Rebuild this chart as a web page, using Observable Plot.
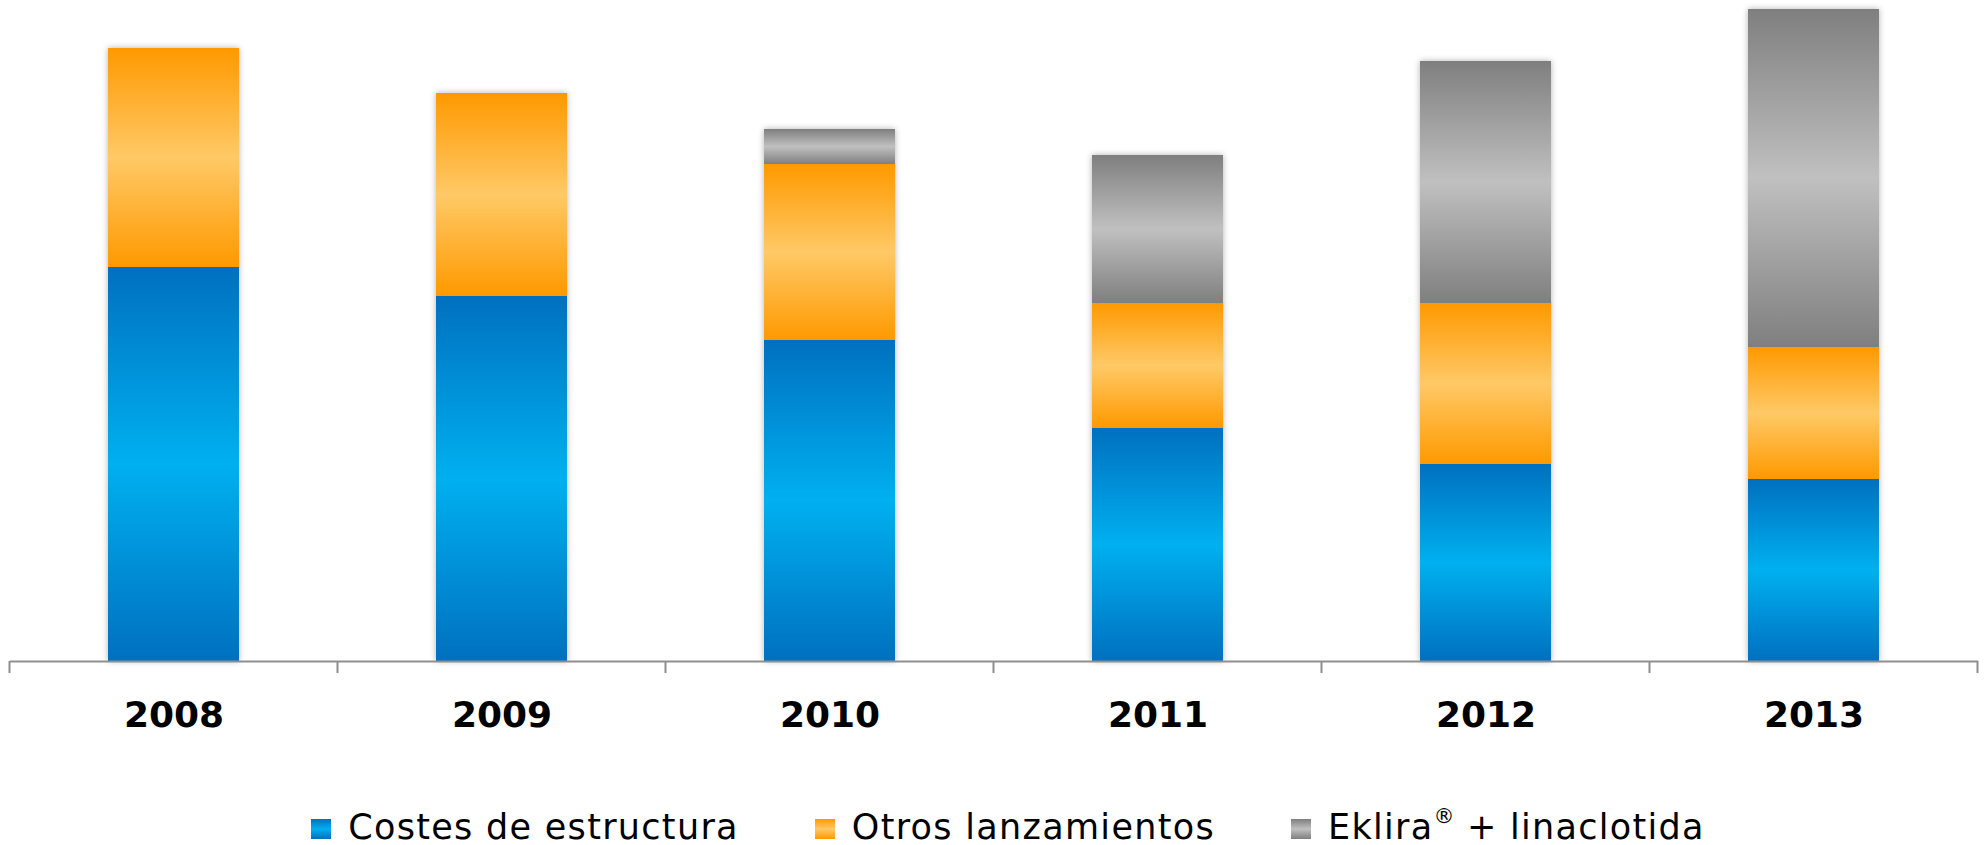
<!DOCTYPE html>
<html>
<head>
<meta charset="utf-8">
<script src="https://cdn.jsdelivr.net/npm/d3@7"></script>
<script src="https://cdn.jsdelivr.net/npm/@observablehq/plot@0.6"></script>
<style>
  html, body { margin: 0; padding: 0; background: #fff; }
  #wrap { position: relative; width: 1984px; height: 845px; overflow: hidden; }
  #chart svg { display: block; }
  .bars { filter: drop-shadow(0 0 3px rgba(0,0,0,0.30)); }
  .legend {
    position: absolute; left: 0; top: 807px; width: 1984px; height: 40px;
    display: flex; justify-content: center; align-items: center;
    padding-left: 32px; box-sizing: border-box;
    font-family: "DejaVu Sans", Verdana, sans-serif; font-size: 35px; line-height: 1; letter-spacing: 1.3px; color: #000;
  }
  .legend .item { display: flex; align-items: center; margin-right: 76px; }
  .legend .item:last-child { margin-right: 0; }
  .legend .sw { width: 20px; height: 20px; margin-right: 17px; margin-top: 4px; }
  .legend sup { font-size: 0.6em; line-height: 0; vertical-align: 0.75em; letter-spacing: 0; }
</style>
</head>
<body>
<div id="wrap">
  <div id="chart"></div>
  <div class="legend" id="legend"></div>
</div>
<script>
// ---- data (arbitrary units) ----
const years = ["2008", "2009", "2010", "2011", "2012", "2013"];
const seriesNames = ["Costes de estructura", "Otros lanzamientos", "Eklira® + linaclotida"];
const costesEstructura = [394, 365, 321, 233, 197, 182];
const otrosLanzamientos = [219, 203, 176, 125, 161, 132];
const eklira = [0, 0, 35, 148, 242, 338];

// gradient colours per series: [edge, middle]
const gradColors = [["#0070C0", "#00B0F0"], ["#FF9900", "#FFC966"], ["#7F7F7F", "#C0C0C0"]];
const gradIds = ["gBlue", "gOrange", "gGray"];

const seriesValues = [costesEstructura, otrosLanzamientos, eklira];
const rows = [];
years.forEach((yr, i) => {
  seriesNames.forEach((s, k) => {
    rows.push({ year: yr, series: s, value: seriesValues[k][i], grad: `url(#${gradIds[k]})` });
  });
});

const defsMark = () => {
  const defs = d3.create("svg:defs");
  gradIds.forEach((id, k) => {
    const g = defs.append("linearGradient").attr("id", id)
      .attr("x1", 0).attr("y1", 0).attr("x2", 0).attr("y2", 1);
    g.append("stop").attr("offset", "0%").attr("stop-color", gradColors[k][0]);
    g.append("stop").attr("offset", "50%").attr("stop-color", gradColors[k][1]);
    g.append("stop").attr("offset", "100%").attr("stop-color", gradColors[k][0]);
  });
  return defs.node();
};

const boundaryTicks = (index, scales) => {
  const x = scales.x, y = scales.y;
  const bw = x.bandwidth();
  const step = x.step ? x.step() : bw / 0.4;
  const pad = (step - bw) / 2;
  const y0 = y(0);
  const edges = years.map(k => x(k) - pad);
  edges.push(x(years[years.length - 1]) + bw + pad);
  const g = d3.create("svg:g").attr("stroke", "#8f8f8f").attr("stroke-width", 2);
  edges.forEach(e => {
    g.append("line").attr("x1", e).attr("x2", e).attr("y1", y0).attr("y2", y0 + 12);
  });
  return g.node();
};

const plot = Plot.plot({
  width: 1984,
  height: 760,
  marginTop: 9,
  marginBottom: 99,
  marginLeft: 10,
  marginRight: 6,
  x: { domain: years, paddingInner: 0.6, paddingOuter: 0.3, label: null },
  y: { domain: [0, 652], axis: null },
  color: { type: "identity" },
  style: { fontFamily: "DejaVu Sans, Verdana, sans-serif", color: "#000", background: "#fff" },
  marks: [
    defsMark,
    Plot.barY(rows.filter(d => d.value > 0), {
      x: "year", y: "value", fill: "grad", className: "bars"
    }),
    Plot.ruleY([0], { stroke: "#8f8f8f", strokeWidth: 2 }),
    boundaryTicks,
    Plot.axisX({ tickSize: 0, tickPadding: 40, fontSize: 36, fontWeight: "bold", fill: "#000" })
  ]
});
document.getElementById("chart").appendChild(plot);

// ---- legend ----
const legend = document.getElementById("legend");
seriesNames.forEach((s, k) => {
  const item = document.createElement("div");
  item.className = "item";
  const sw = document.createElement("div");
  sw.className = "sw";
  sw.style.background = `linear-gradient(to bottom, ${gradColors[k][0]}, ${gradColors[k][1]} 50%, ${gradColors[k][0]})`;
  const t = document.createElement("span");
  // render the registered-trademark sign as a superscript, as in the original
  s.split("®").forEach((part, j) => {
    if (j > 0) {
      const sup = document.createElement("sup");
      sup.textContent = "®";
      t.appendChild(sup);
    }
    t.appendChild(document.createTextNode(part));
  });
  item.appendChild(sw);
  item.appendChild(t);
  legend.appendChild(item);
});
</script>
</body>
</html>
